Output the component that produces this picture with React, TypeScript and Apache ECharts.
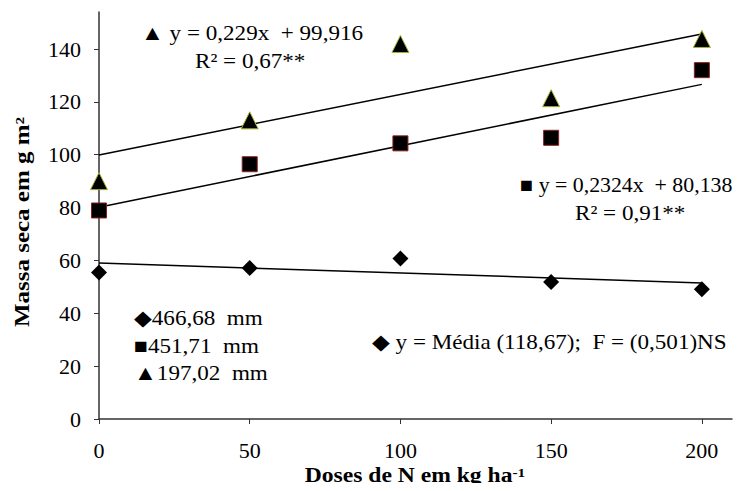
import React, { useEffect, useRef } from "react";
import * as echarts from "echarts";

const doses = [0, 50, 100, 150, 200];
const mm466 = [55.4, 57.1, 60.7, 51.8, 49.1];
const mm451 = [78.9, 96.4, 104.3, 106.4, 132.0];
const mm197 = [90.0, 113.0, 141.9, 121.4, 143.8];
const trendX = [0, 200];
const trend466 = [59.0, 51.5];
const trend451 = [80.138, 126.618];
const trend197 = [99.916, 145.716];
const yTicks = [0, 20, 40, 60, 80, 100, 120, 140];
const xTicks = [0, 50, 100, 150, 200];

const FONT = "Liberation Serif";

export default function App() {
  const ref = useRef<HTMLDivElement>(null);
  useEffect(() => {
    if (!ref.current) return;
    const chart = echarts.init(ref.current, undefined, { renderer: "svg" });
    const pts = (ys: number[]) => doses.map((x, i) => [x, ys[i]]);
    const tr = (ys: number[]) => trendX.map((x, i) => [x, ys[i]]);
    const txt = (x: number, y: number, text: string, sx = 1.1) => ({
      type: "text",
      x,
      y,
      scaleX: sx,
      style: {
        text,
        fontFamily: FONT,
        fontSize: 21,
        fill: "#000",
        textVerticalAlign: "middle",
      },
    });
    const axisColor = "#333";
    chart.setOption({
      animation: false,
      backgroundColor: "#fff",
      textStyle: { fontFamily: FONT },
      grid: { left: 99, right: 15, top: 12, bottom: 72 },
      xAxis: {
        type: "value",
        min: 0,
        max: 210,
        interval: 50,
        splitLine: { show: false },
        axisLine: { lineStyle: { color: axisColor, width: 1.5 } },
        axisTick: { length: 5, customValues: xTicks, lineStyle: { color: axisColor } },
        axisLabel: {
          customValues: xTicks,
          margin: 20,
          fontFamily: FONT,
          fontSize: 22,
          color: "#000",
        },
      },
      yAxis: {
        type: "value",
        min: 0,
        max: 154,
        interval: 20,
        splitLine: { show: false },
        axisLine: { show: true, lineStyle: { color: axisColor, width: 1.5 } },
        axisTick: { show: true, length: 5, customValues: yTicks, lineStyle: { color: axisColor } },
        axisLabel: {
          customValues: yTicks,
          margin: 18,
          fontFamily: FONT,
          fontSize: 22,
          color: "#000",
        },
      },
      series: [
        { type: "line", data: tr(trend197), symbol: "none", lineStyle: { color: "#000", width: 1.5 }, z: 1 },
        { type: "line", data: tr(trend451), symbol: "none", lineStyle: { color: "#000", width: 1.5 }, z: 1 },
        { type: "line", data: tr(trend466), symbol: "none", lineStyle: { color: "#000", width: 1.5 }, z: 1 },
        {
          type: "scatter",
          data: pts(mm466),
          symbol: "diamond",
          symbolSize: 16,
          clip: false,
          itemStyle: { color: "#000", opacity: 1 },
          z: 3,
        },
        {
          type: "scatter",
          data: pts(mm451),
          symbol: "rect",
          symbolSize: 15,
          clip: false,
          itemStyle: { color: "#000", borderColor: "#8a2020", borderWidth: 1, opacity: 1 },
          z: 3,
        },
        {
          type: "scatter",
          data: pts(mm197),
          symbol: "triangle",
          symbolSize: 17,
          clip: false,
          itemStyle: { color: "#000", borderColor: "#a8b030", borderWidth: 1, opacity: 1 },
          z: 3,
        },
      ],
      graphic: [
        txt(141, 33, "▲ y = 0,229x  + 99,916"),
        txt(195, 61, "R² = 0,67**"),
        txt(520, 185, "■ y = 0,2324x  + 80,138", 1.04),
        txt(575, 213, "R² = 0,91**"),
        txt(134, 318, "◆466,68  mm"),
        txt(134, 346, "■451,71  mm"),
        txt(134, 373, "▲197,02  mm"),
        txt(372, 342, "◆ y = Média (118,67);  F = (0,501)NS"),
        {
          type: "text",
          x: 22,
          y: 222,
          rotation: Math.PI / 2,
          scaleX: 1.25,
          style: {
            text: "Massa seca em g m²",
            fontFamily: FONT,
            fontWeight: "bold",
            fontSize: 20,
            fill: "#000",
            textAlign: "center",
            textVerticalAlign: "middle",
          },
        },
        {
          type: "text",
          x: 415,
          y: 476,
          scaleX: 1.18,
          style: {
            text: "{a|Doses de N em kg ha}{s|-1}",
            textAlign: "center",
            textVerticalAlign: "middle",
            rich: {
              a: { fontFamily: FONT, fontWeight: "bold", fontSize: 20, fill: "#000" },
              s: { fontFamily: FONT, fontWeight: "bold", fontSize: 13, fill: "#000", verticalAlign: "top" },
            },
          },
        },
      ],
    });
    return () => chart.dispose();
  }, []);
  return <div ref={ref} style={{ width: 747, height: 491, margin: -8 }} />;
}
